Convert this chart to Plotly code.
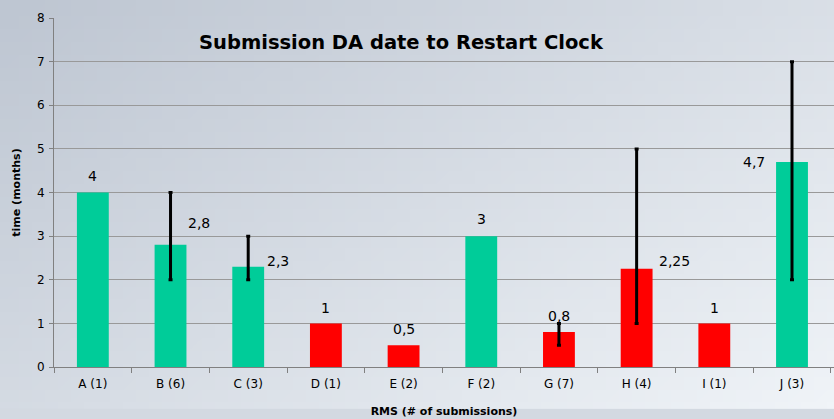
import plotly.graph_objects as go
import zlib, struct, base64

categories = ["A (1)", "B (6)", "C (3)", "D (1)", "E (2)", "F (2)", "G (7)", "H (4)", "I (1)", "J (3)"]
values = [4, 2.8, 2.3, 1, 0.5, 3, 0.8, 2.25, 1, 4.7]
labels = ["4", "2,8", "2,3", "1", "0,5", "3", "0,8", "2,25", "1", "4,7"]
range_low = [None, 2, 2, None, None, None, 0.5, 1, None, 2]
range_high = [None, 4, 3, None, None, None, 1, 5, None, 7]
status = ["ok", "ok", "ok", "late", "late", "ok", "late", "late", "late", "ok"]

GREEN = "#00CC99"
RED = "#FF0000"
colors = [GREEN if s == "ok" else RED for s in status]

err_cats = [c for c, h in zip(categories, range_high) if h is not None]
err_vals = [v for v, h in zip(values, range_high) if h is not None]
err_plus = [h - v for h, v in zip(range_high, values) if h is not None]
err_minus = [v - l for l, v in zip(range_low, values) if l is not None]


def gradient_png(w, h):
    rows = b""
    for y in range(h):
        row = b"\x00"
        for x in range(w):
            t = (x / (w - 1)) * 0.55 + (y / (h - 1)) * 0.45
            r = int(190 + t * 50)
            g = int(198 + t * 46)
            b = int(210 + t * 38)
            row += bytes([r, g, b])
        rows += row

    def chunk(tag, data):
        c = struct.pack(">I", len(data)) + tag + data
        return c + struct.pack(">I", zlib.crc32(tag + data) & 0xffffffff)

    png = b"\x89PNG\r\n\x1a\n"
    png += chunk(b"IHDR", struct.pack(">IIBBBBB", w, h, 8, 2, 0, 0, 0))
    png += chunk(b"IDAT", zlib.compress(rows))
    png += chunk(b"IEND", b"")
    return "data:image/png;base64," + base64.b64encode(png).decode()


fig = go.Figure()
fig.add_trace(go.Bar(
    x=categories, y=values, marker=dict(color=colors, line=dict(width=0)),
    width=0.41, hoverinfo="x+y",
))
fig.add_trace(go.Scatter(
    x=err_cats, y=err_vals, mode="markers", marker=dict(size=0.1, opacity=0),
    error_y=dict(type="data", symmetric=False, array=err_plus, arrayminus=err_minus,
                 color="black", thickness=3, width=2),
    hoverinfo="skip",
))

# label positions (style)
offsets = {
    "A (1)": (0, 4.38), "B (6)": (28, 3.3), "C (3)": (30, 2.42), "D (1)": (0, 1.35),
    "E (2)": (0, 0.88), "F (2)": (0, 3.4), "G (7)": (0, 1.17), "H (4)": (38, 2.42),
    "I (1)": (0, 1.35), "J (3)": (-38, 4.7),
}
for c, lab in zip(categories, labels):
    dx, yy = offsets[c]
    fig.add_annotation(x=c, y=yy, text=lab, showarrow=False, xshift=dx,
                       font=dict(family="DejaVu Sans", size=14, color="black"))

fig.add_annotation(xref="paper", yref="paper", x=0.446, y=0.931, yanchor="middle",
                   text="<b>Submission DA date to Restart Clock</b>",
                   showarrow=False, font=dict(family="DejaVu Sans", size=19.5, color="black"))

fig.add_layout_image(dict(source=gradient_png(64, 32), xref="paper", yref="paper",
                          x=-0.07, y=1.06, sizex=1.07, sizey=1.18, sizing="stretch",
                          layer="below", xanchor="left", yanchor="top"))

fig.update_layout(
    width=834, height=419,
    margin=dict(l=54, r=0, t=18, b=52),
    paper_bgcolor="#d3d9e1", plot_bgcolor="rgba(0,0,0,0)",
    showlegend=False, bargap=0.59,
    font=dict(family="DejaVu Sans", color="black"),
    xaxis=dict(type="category", tickson="boundaries", ticks="outside", ticklen=5,
               tickcolor="#808080", showline=True, linecolor="#808080", linewidth=1,
               tickfont=dict(size=12), showgrid=False, automargin=False,
               ticklabelstandoff=6,
               title=dict(text="<b>RMS (# of submissions)</b>", font=dict(size=11), standoff=16)),
    yaxis=dict(range=[0, 8], dtick=1, ticks="outside", ticklen=4, tickcolor="#808080",
               showline=True, linecolor="#808080", linewidth=1,
               gridcolor="#999999", gridwidth=1, zeroline=False, automargin=False,
               tickfont=dict(size=12), ticklabelstandoff=2,
               title=dict(text="<b>time (months)</b>", font=dict(size=11), standoff=14)),
)

fig.write_html("out.html", config={"displayModeBar": False},
               post_script="document.body.style.margin='0';document.body.style.overflow='hidden';")
